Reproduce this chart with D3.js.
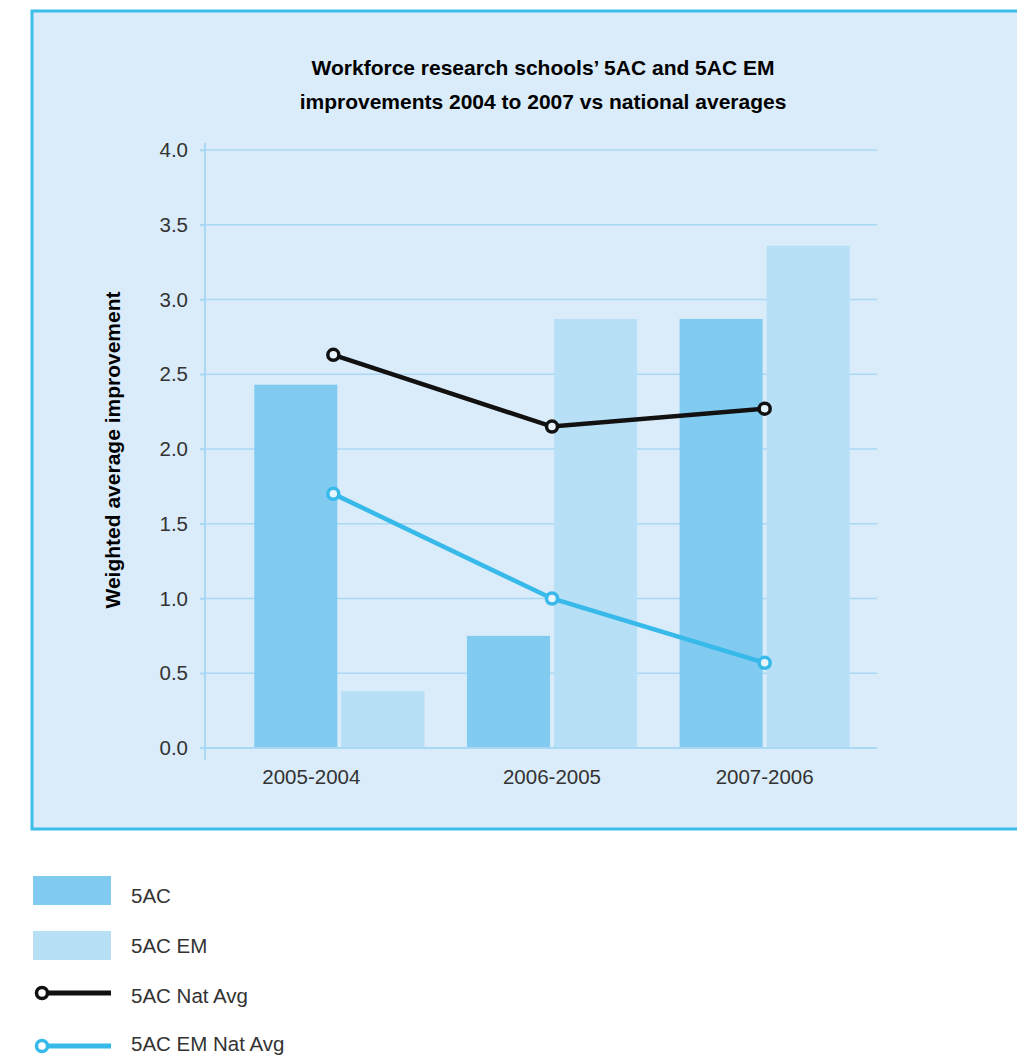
<!DOCTYPE html>
<html>
<head>
<meta charset="utf-8">
<script src="https://cdn.jsdelivr.net/npm/d3@7"></script>
<style>
  body { margin: 0; background: #fff; }
  text { font-family: "Liberation Sans", Arial, sans-serif; }
</style>
</head>
<body>
<svg id="chart" width="1017" height="1056"></svg>
<script>
let periods = ["2005-2004", "2006-2005", "2007-2006"];
let ac5 = [2.43, 0.75, 2.87];
let ac5em = [0.38, 2.87, 3.36];
let ac5Nat = [2.63, 2.15, 2.27];
let ac5emNat = [1.70, 1.00, 0.57];
let yTicks = [0, 0.5, 1, 1.5, 2, 2.5, 3, 3.5, 4];
let legendNames = ["5AC", "5AC EM", "5AC Nat Avg", "5AC EM Nat Avg"];

let svg = d3.select("#chart");

// panel
svg.append("rect")
    .attr("x", 32).attr("y", 11)
    .attr("width", 1010).attr("height", 818)
    .attr("fill", "#daecfa")
    .attr("stroke", "#3cbdea").attr("stroke-width", 3);

let y = d3.scaleLinear().domain([0, 4]).range([748, 150]);
let x = d3.scaleBand().domain(periods).range([233, 871]).paddingInner(0.2).paddingOuter(0.1);
let inner = d3.scaleBand().domain(["5AC", "5AC EM"]).range([0, x.bandwidth()]).paddingInner(0.046);

// first category label + points sit a bit left of centre in the original
let shift = (i, amt) => i == 0 ? amt : 0;

// grid
svg.append("g")
    .selectAll("line")
    .data(yTicks)
    .join("line")
    .attr("x1", 200).attr("x2", 877)
    .attr("y1", d => y(d)).attr("y2", d => y(d))
    .attr("stroke", "#a9d8f5").attr("stroke-width", 1.5);

// y axis
let yAxis = svg.append("g")
    .attr("transform", "translate(205,0)")
    .call(d3.axisLeft(y).tickValues(yTicks).tickFormat(d3.format(".1f")).tickSize(5).tickPadding(12));
yAxis.select(".domain").remove();
yAxis.selectAll(".tick line").attr("stroke", "#a9d8f5").attr("stroke-width", 1.5);
yAxis.selectAll("text").attr("fill", "#333").style("font-size", "20.5px");
svg.append("line")
    .attr("x1", 205).attr("x2", 205).attr("y1", 143).attr("y2", 760)
    .attr("stroke", "#a9d8f5").attr("stroke-width", 2);

// bars
let groups = svg.append("g").selectAll("g")
    .data(periods)
    .join("g")
    .attr("transform", d => "translate(" + x(d) + ",0)");
groups.append("rect")
    .attr("x", inner("5AC")).attr("width", inner.bandwidth())
    .attr("y", (d, i) => y(ac5[i])).attr("height", (d, i) => y(0) - y(ac5[i]))
    .attr("fill", "#81cbf1");
groups.append("rect")
    .attr("x", inner("5AC EM")).attr("width", inner.bandwidth())
    .attr("y", (d, i) => y(ac5em[i])).attr("height", (d, i) => y(0) - y(ac5em[i]))
    .attr("fill", "#b7dff6");

// baseline
svg.append("line")
    .attr("x1", 200).attr("x2", 877).attr("y1", y(0)).attr("y2", y(0))
    .attr("stroke", "#a9d8f5").attr("stroke-width", 2);

// x labels
svg.append("g").selectAll("text")
    .data(periods)
    .join("text")
    .attr("x", (d, i) => x(d) + x.bandwidth() / 2 + shift(i, -28))
    .attr("y", 784)
    .attr("text-anchor", "middle")
    .attr("fill", "#333")
    .style("font-size", "20.5px")
    .text(d => d);

// lines
let px = (d, i) => x(periods[i]) + x.bandwidth() / 2 + shift(i, -6);
let line = d3.line()
    .x(px)
    .y(d => y(d));

function drawSeries(vals, color) {
    svg.append("path")
        .attr("d", line(vals))
        .attr("fill", "none")
        .attr("stroke", color).attr("stroke-width", 4.5);
    svg.append("g").selectAll("circle")
        .data(vals)
        .join("circle")
        .attr("cx", px)
        .attr("cy", d => y(d))
        .attr("r", 5.5)
        .attr("fill", "#e8f4fc")
        .attr("stroke", color).attr("stroke-width", 3.5);
}
drawSeries(ac5Nat, "#111");
drawSeries(ac5emNat, "#37b9e9");

// title
svg.append("text")
    .attr("x", 543).attr("y", 75)
    .attr("text-anchor", "middle")
    .style("font-size", "21px").style("font-weight", "bold")
    .text("Workforce research schools\u2019 5AC and 5AC EM");
svg.append("text")
    .attr("x", 543).attr("y", 109)
    .attr("text-anchor", "middle")
    .style("font-size", "21px").style("font-weight", "bold")
    .text("improvements 2004 to 2007 vs national averages");

// y label
svg.append("text")
    .attr("transform", "translate(120,450)rotate(-90)")
    .attr("text-anchor", "middle")
    .style("font-size", "21px").style("font-weight", "bold")
    .text("Weighted average improvement");

// legend
let legY = [890.5, 945.5, 993, 1046];
let legTextY = [903, 953, 1003, 1051];
let legend = svg.append("g").selectAll("g")
    .data(legendNames)
    .join("g");
legend.filter((d, i) => i < 2).append("rect")
    .attr("x", 33).attr("y", (d, i) => legY[i] - 14.5).attr("width", 78).attr("height", 29)
    .attr("fill", (d, i) => i == 0 ? "#81cbf1" : "#b7dff6");
legend.filter((d, i) => i >= 2).append("line")
    .attr("x1", 42).attr("x2", 111)
    .attr("y1", (d, i) => legY[i + 2]).attr("y2", (d, i) => legY[i + 2])
    .attr("stroke", (d, i) => i == 0 ? "#111" : "#37b9e9").attr("stroke-width", 5);
legend.filter((d, i) => i >= 2).append("circle")
    .attr("cx", 42).attr("cy", (d, i) => legY[i + 2]).attr("r", 5.5)
    .attr("fill", "#fff")
    .attr("stroke", (d, i) => i == 0 ? "#111" : "#37b9e9").attr("stroke-width", 3.5);
legend.append("text")
    .attr("x", 131).attr("y", (d, i) => legTextY[i])
    .attr("fill", "#333")
    .style("font-size", "20.5px")
    .text(d => d);
</script>
</body>
</html>
